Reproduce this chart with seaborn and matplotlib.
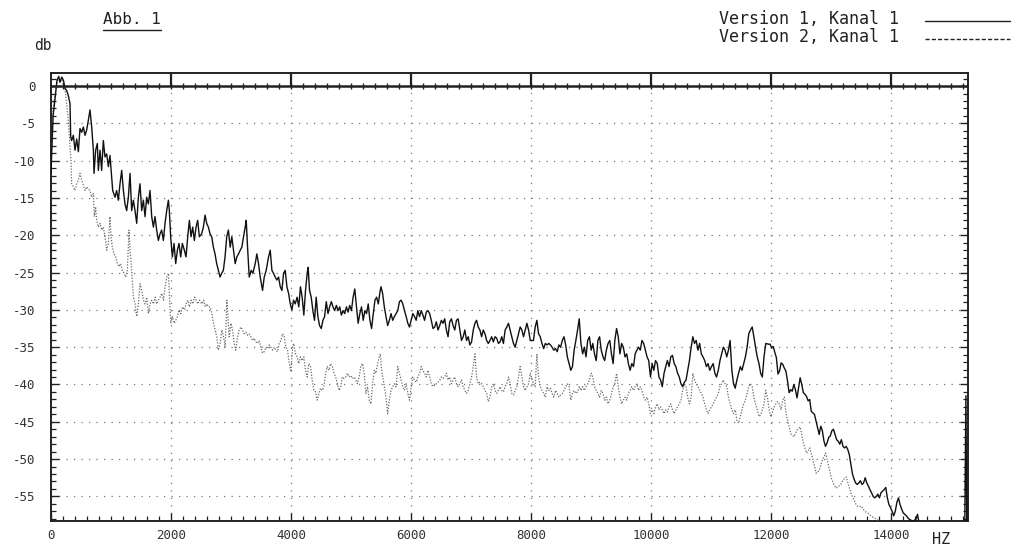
import numpy as np
import pandas as pd
import matplotlib
matplotlib.use("Agg")
import matplotlib.pyplot as plt
from matplotlib.lines import Line2D
from matplotlib.ticker import MultipleLocator
import seaborn as sns

title_text = "Abb. 1"
y_unit = "db"
x_unit = "HZ"
series_names = ["Version 1, Kanal 1", "Version 2, Kanal 1"]
x_ticks = [0, 2000, 4000, 6000, 8000, 10000, 12000, 14000]
y_ticks = [0, -5, -10, -15, -20, -25, -30, -35, -40, -45, -50, -55]

freq_v1 = [
    0, 35, 70, 100, 130, 150, 180, 206, 235, 261, 289, 317, 328, 344, 372, 400, 428, 456, 483, 511,
    539, 567, 594, 622, 650, 678, 706, 717, 744, 772, 789, 817, 844, 872, 900, 928, 956, 983, 1011, 1028,
    1067, 1094, 1122, 1150, 1178, 1206, 1233, 1261, 1289, 1317, 1344, 1372, 1400, 1428, 1456, 1483, 1511, 1539, 1567, 1594,
    1622, 1650, 1678, 1706, 1733, 1761, 1789, 1817, 1844, 1872, 1900, 1928, 1956, 1972, 1994, 2022, 2050, 2078, 2106, 2133,
    2161, 2189, 2222, 2250, 2278, 2306, 2333, 2361, 2389, 2417, 2444, 2472, 2511, 2539, 2567, 2594, 2622, 2650, 2678, 2706,
    2733, 2761, 2789, 2817, 2844, 2872, 2900, 2928, 2956, 2986, 3013, 3041, 3069, 3097, 3125, 3153, 3180, 3208, 3236, 3253,
    3275, 3303, 3336, 3364, 3403, 3430, 3458, 3486, 3525, 3553, 3586, 3625, 3653, 3681, 3708, 3736, 3764, 3792, 3820, 3848,
    3875, 3903, 3931, 3959, 3987, 4014, 4042, 4070,
    4101, 4129, 4157, 4185, 4213, 4241, 4269, 4285, 4308, 4336, 4364, 4391, 4419, 4447, 4475, 4503, 4531, 4559, 4587, 4615,
    4643, 4671, 4699, 4727, 4755, 4783, 4811, 4839, 4867, 4895, 4923, 4950, 4978, 5006, 5034, 5062, 5090, 5118, 5146, 5174,
    5202, 5230, 5258, 5286, 5314, 5342, 5370, 5398, 5426, 5454, 5482, 5498, 5526, 5554, 5582, 5610, 5638, 5666, 5694, 5722,
    5750, 5778, 5806, 5834, 5862, 5890, 5918, 5946, 5973, 6001, 6029, 6057, 6085, 6113, 6141, 6169, 6197, 6225, 6253, 6281,
    6309, 6337, 6365, 6393, 6421, 6449, 6477, 6505, 6532, 6560, 6588, 6616, 6644, 6672, 6700, 6728, 6756, 6784, 6812, 6840,
    6868, 6896, 6924, 6952, 6980, 7008, 7036, 7064, 7091, 7119, 7147, 7175, 7203, 7231, 7259, 7287, 7315, 7343, 7371, 7399,
    7427, 7455, 7483, 7511, 7539, 7567, 7595, 7623, 7650, 7678, 7706, 7734, 7762, 7790, 7818, 7846, 7874, 7902, 7930, 7958,
    7986,
    8039, 8068, 8096, 8124, 8152, 8181, 8209, 8237, 8265, 8294, 8322, 8350, 8378, 8407, 8435, 8463, 8491, 8520, 8548, 8576,
    8604, 8633, 8661, 8689, 8717, 8746, 8774, 8802, 8830, 8859, 8887, 8915, 8943, 8972, 9000, 9028, 9056, 9085, 9113, 9141,
    9169, 9198, 9226, 9254, 9282, 9311, 9339, 9367, 9395, 9424, 9452, 9480, 9508, 9537, 9565, 9593, 9621, 9650, 9678, 9706,
    9734, 9763, 9791, 9819, 9847, 9876, 9904, 9932, 9960, 9989, 10017, 10045, 10073, 10102, 10130, 10158, 10186, 10215, 10243, 10271,
    10299, 10328, 10356, 10384, 10412, 10441, 10469, 10497, 10525, 10554, 10582, 10610, 10638, 10667, 10695, 10723, 10751, 10780, 10808, 10836,
    10864, 10893, 10921, 10949, 10977, 11006, 11034, 11062, 11090, 11119, 11147, 11175, 11203, 11232, 11260, 11288, 11316, 11345, 11373, 11401,
    11429, 11458, 11486, 11514, 11542, 11571, 11599, 11627, 11655, 11684, 11712, 11740, 11768, 11797, 11825, 11853, 11881, 11910,
    11955, 11982, 12008, 12034, 12061, 12087, 12114, 12140, 12166, 12193, 12219, 12246, 12272, 12299, 12325, 12351, 12378, 12404, 12431, 12457,
    12483, 12510, 12536, 12563, 12589, 12616, 12642, 12668, 12695, 12721, 12748, 12774, 12800, 12827, 12853, 12880, 12906, 12933, 12959, 12985,
    13012, 13038, 13065, 13091, 13117, 13144, 13170, 13197, 13223, 13250, 13276, 13302, 13329, 13355, 13382, 13408, 13434, 13461, 13487, 13514,
    13540, 13567, 13593, 13619, 13646, 13672, 13699, 13725, 13751, 13778, 13804, 13831, 13857, 13883, 13910, 13936, 13963, 13989, 14015, 14042,
    14068, 14095, 14121, 14148, 14174, 14200, 14227, 14253, 14280, 14306, 14359, 14412, 14438, 14465,
    14600, 15225, 15245, 15260,
]
db_v1 = [
    -11.5, -4.0, -1.5, 0.8, 1.3, 0.5, 1.2, 0.8, -0.3, -0.6, -1.3, -2.4, -6.8, -7.3, -6.6, -8.6, -7.1, -8.8, -5.7, -6.2,
    -5.5, -6.6, -5.9, -4.6, -3.2, -5.5, -8.6, -11.7, -8.6, -7.7, -11.3, -8.6, -11.3, -7.3, -9.5, -9.1, -10.8, -9.3, -12.2, -14.0,
    -14.9, -14.0, -15.3, -13.1, -11.3, -14.0, -15.8, -16.7, -14.9, -11.7, -16.7, -15.3, -16.7, -18.4, -14.9, -13.1, -16.7, -15.3, -17.5, -14.9,
    -15.8, -14.0, -17.5, -18.9, -17.5, -19.3, -20.7, -19.8, -19.3, -20.7, -18.4, -16.7, -15.3, -16.7, -20.2, -22.9, -21.1, -23.8, -22.0, -21.1,
    -22.9, -21.1, -22.0, -22.9, -20.2, -18.0, -20.2, -18.9, -20.7, -18.9, -18.0, -20.2, -19.8, -18.9, -17.3, -18.4, -18.9, -19.8, -20.2, -21.6,
    -22.5, -23.8, -24.7, -25.6, -25.1, -24.7, -22.9, -20.2, -19.3, -21.6, -20.2, -22.0, -23.8, -22.9, -22.5, -22.0, -21.6, -20.2, -18.9, -18.0,
    -21.6, -25.6, -24.7, -25.1, -23.8, -22.5, -23.8, -25.6, -27.4, -25.6, -24.7, -22.9, -22.0, -24.7, -25.1, -25.6, -26.0, -25.6, -26.9, -27.4,
    -25.1, -24.7, -26.9, -27.8, -29.2, -30.0, -28.7, -29.2,
    -28.3, -29.6, -26.9, -28.3, -30.7, -27.4, -25.1, -24.3, -27.4, -28.3, -30.1, -31.4, -28.3, -30.9, -32.1, -32.5, -31.4, -30.9, -28.9, -30.5,
    -29.6, -28.9, -29.6, -30.1, -29.4, -30.1, -29.6, -30.7, -30.1, -30.5, -29.6, -30.3, -29.4, -30.1, -28.3, -27.2, -29.6, -31.8, -30.5, -29.6,
    -31.4, -30.1, -30.5, -29.2, -31.4, -32.5, -30.5, -28.7, -28.3, -29.2, -27.6, -26.9, -27.8, -29.6, -30.9, -32.1, -31.4, -30.5, -31.4, -30.9,
    -30.5, -30.1, -28.9, -28.7, -29.2, -30.1, -30.9, -31.8, -32.3, -31.4, -30.5, -30.9, -31.4, -30.1, -30.9, -30.1, -30.7, -31.4, -30.3, -30.1,
    -30.5, -31.4, -32.5, -32.3, -31.6, -32.7, -32.1, -31.4, -31.8, -31.2, -32.7, -33.6, -31.6, -31.2, -32.1, -32.7, -31.4, -31.2, -32.7, -34.1,
    -33.6, -32.7, -34.1, -33.6, -34.7, -34.3, -32.7, -31.8, -31.4, -32.3, -32.7, -33.6, -32.7, -33.2, -34.1, -34.5, -34.1, -33.6, -34.3, -33.6,
    -33.8, -34.5, -34.3, -33.6, -34.5, -32.7, -32.3, -31.8, -32.7, -33.6, -34.5, -35.0, -34.1, -33.2, -32.3, -32.7, -33.6, -32.7, -31.8, -32.7,
    -34.1,
    -34.1, -32.3, -31.4, -33.2, -33.6, -34.5, -35.2, -34.5, -34.7, -34.5, -34.7, -35.0, -35.4, -35.2, -35.6, -34.7, -35.0, -34.1, -33.6, -34.7,
    -36.3, -37.2, -38.1, -37.6, -35.4, -34.1, -32.7, -31.2, -34.5, -35.9, -35.0, -36.3, -34.1, -33.6, -35.4, -34.5, -35.9, -36.8, -34.1, -33.6,
    -35.4, -36.3, -36.8, -35.4, -34.5, -34.1, -35.9, -37.2, -34.1, -32.5, -33.6, -35.9, -34.5, -35.0, -36.3, -35.9, -37.2, -38.1, -37.2, -37.6,
    -35.9, -35.4, -35.0, -35.4, -34.1, -34.5, -35.4, -36.3, -36.8, -39.0, -37.2, -38.1, -36.8, -37.2, -39.0, -39.4, -40.3, -38.5, -37.6, -36.8,
    -37.6, -36.3, -36.1, -37.2, -37.6, -38.5, -39.0, -39.9, -40.3, -39.7, -39.4, -38.1, -36.8, -35.0, -33.6, -34.5, -34.1, -35.4, -34.5, -35.9,
    -36.3, -36.8, -37.6, -37.2, -38.1, -37.6, -37.2, -38.5, -39.0, -38.1, -36.8, -35.9, -35.0, -35.4, -36.3, -35.4, -34.1, -38.1, -39.9, -40.5,
    -39.4, -38.5, -37.6, -38.1, -37.2, -36.3, -35.0, -33.2, -32.7, -32.3, -33.6, -35.0, -36.3, -37.2, -38.5, -39.0, -36.3, -34.5,
    -34.6, -34.6, -35.1, -34.9, -35.7, -36.4, -38.6, -38.2, -37.1, -37.3, -37.8, -38.2, -39.5, -41.1, -40.7, -40.9, -40.0, -40.7, -41.8, -40.4,
    -39.1, -40.0, -41.1, -41.3, -41.6, -42.2, -42.0, -43.6, -43.8, -44.0, -44.9, -45.8, -46.7, -45.6, -46.2, -47.6, -48.3, -47.8, -47.1, -46.9,
    -46.2, -46.0, -46.7, -47.4, -47.6, -48.0, -47.4, -48.3, -48.5, -48.3, -48.7, -49.4, -50.7, -52.0, -52.7, -53.2, -53.4, -53.2, -52.9, -53.4,
    -53.2, -52.5, -53.2, -53.6, -54.1, -54.5, -55.0, -55.2, -55.0, -54.7, -55.2, -54.5, -54.3, -54.1, -53.8, -55.2, -56.1, -56.5, -57.0, -57.6,
    -57.0, -55.8, -55.2, -56.1, -56.7, -57.2, -57.4, -57.6, -57.9, -58.1, -58.3, -58.1, -57.4, -58.5,
    -60.0, -60.0, -41.5, -60.0,
]

freq_v2 = [
    0, 35, 70, 100, 130, 180, 235, 289, 317, 333, 344, 372, 400, 428, 456, 483, 511, 539, 567, 594,
    622, 650, 678, 706, 722, 744, 761, 789, 817, 844, 872, 900, 928, 956, 983, 1000, 1022, 1050, 1078, 1106,
    1133, 1161, 1189, 1217, 1245, 1272, 1300, 1317, 1345, 1373, 1401, 1428, 1456, 1484, 1512, 1540, 1568, 1596, 1623, 1651,
    1679, 1707, 1735, 1762, 1790, 1818, 1846, 1874, 1901, 1929, 1957, 1974, 1996, 2024, 2052, 2079, 2107, 2135, 2163, 2191,
    2224, 2252, 2279, 2307, 2335, 2363, 2391, 2418, 2446, 2474, 2513, 2541, 2569, 2596, 2624, 2652, 2680, 2708, 2735, 2763,
    2791, 2819, 2847, 2875, 2902, 2930, 2947, 2969, 2997, 3025, 3052, 3080, 3108, 3136, 3164, 3191, 3219, 3247, 3275, 3303,
    3330, 3358, 3386, 3414, 3442, 3469, 3497, 3525, 3553, 3581, 3608, 3636, 3664, 3692, 3720, 3747, 3775, 3803, 3831, 3859,
    3886, 3914, 3942, 3970, 3998, 4025,
    4045, 4073, 4101, 4129, 4157, 4185, 4213, 4241, 4269, 4296, 4324, 4352, 4380, 4408, 4436, 4464, 4492, 4520, 4548, 4576,
    4604, 4632, 4660, 4688, 4716, 4744, 4772, 4800, 4828, 4855, 4883, 4911, 4939, 4967, 4995, 5023, 5051, 5079, 5107, 5135,
    5163, 5191, 5219, 5247, 5275, 5303, 5331, 5359, 5387, 5414, 5442, 5470, 5487, 5509, 5537, 5565, 5593, 5610, 5638, 5666,
    5694, 5722, 5750, 5778, 5806, 5834, 5862, 5890, 5918, 5946, 5973, 6001, 6029, 6057, 6085, 6113, 6141, 6169, 6197, 6225,
    6253, 6281, 6309, 6337, 6365, 6393, 6421, 6449, 6477, 6505, 6532, 6560, 6588, 6616, 6644, 6672, 6700, 6728, 6756, 6784,
    6812, 6840, 6868, 6896, 6924, 6952, 6980, 7008, 7036, 7064, 7091, 7119, 7147, 7175, 7203, 7231, 7259, 7287, 7315, 7343,
    7371, 7399, 7427, 7455, 7483, 7511, 7539, 7567, 7595, 7623, 7650, 7678, 7706, 7734, 7762, 7790, 7818, 7846, 7874, 7902,
    7930, 7958, 7986,
    8039, 8068, 8096, 8124, 8152, 8181, 8209, 8237, 8265, 8294, 8322, 8350, 8378, 8407, 8435, 8463, 8491, 8520, 8548, 8576,
    8604, 8633, 8661, 8689, 8717, 8746, 8774, 8802, 8830, 8859, 8887, 8915, 8943, 8972, 9000, 9028, 9056, 9085, 9113, 9141,
    9169, 9198, 9226, 9254, 9282, 9311, 9339, 9367, 9395, 9424, 9452, 9480, 9508, 9537, 9565, 9593, 9621, 9650, 9678, 9706,
    9734, 9763, 9791, 9819, 9847, 9876, 9904, 9932, 9960, 9989, 10017, 10045, 10073, 10102, 10130, 10158, 10186, 10215, 10243, 10271,
    10299, 10328, 10356, 10384, 10412, 10441, 10469, 10497, 10525, 10554, 10582, 10610, 10638, 10667, 10695, 10723, 10751, 10780, 10808, 10836,
    10864, 10893, 10921, 10949, 10977, 11006, 11034, 11062, 11090, 11119, 11147, 11175, 11203, 11232, 11260, 11288, 11316, 11345, 11373, 11401,
    11429, 11458, 11486, 11514, 11542, 11571, 11599, 11627, 11655, 11684, 11712, 11740, 11768, 11797, 11825, 11853, 11881, 11910, 11938, 11966,
    11994, 12023, 12051, 12079, 12108, 12136, 12164, 12192, 12220,
    12248, 12327, 12380, 12433, 12485, 12538, 12591, 12644, 12697, 12749, 12802, 12855, 12908, 12960, 13000, 13040, 13080, 13119, 13160, 13198,
    13251, 13290, 13330, 13383, 13420, 13462, 13500, 13541, 13580, 13620, 13673, 13725, 13778, 13850, 15200,
]
db_v2 = [
    -10.0, -3.0, -1.0, 0.5, 1.0, 0.8, -0.5, -4.6, -8.2, -10.0, -13.1, -13.5, -14.0, -13.1, -12.6, -11.7, -12.6, -13.3, -14.0, -13.5,
    -13.8, -14.0, -14.9, -14.4, -17.5, -16.2, -18.0, -18.9, -18.4, -19.3, -18.9, -20.2, -22.0, -21.1, -17.5, -20.2, -21.6, -22.5, -22.9, -23.8,
    -24.2, -23.8, -24.7, -25.1, -25.6, -24.7, -19.3, -22.0, -24.7, -28.3, -29.2, -30.9, -29.2, -26.5, -27.4, -28.7, -29.2, -28.3, -30.5, -29.2,
    -28.7, -29.2, -28.3, -29.2, -28.7, -28.3, -27.8, -28.7, -26.9, -25.6, -25.1, -28.3, -31.8, -30.9, -31.8, -31.4, -30.9, -30.0, -30.5, -29.6,
    -30.0, -29.2, -28.7, -29.6, -28.7, -29.2, -28.3, -28.7, -29.2, -28.7, -29.2, -28.7, -29.6, -29.2, -29.6, -29.6, -30.5, -31.8, -32.7, -33.6,
    -35.4, -34.5, -32.7, -33.6, -35.0, -28.7, -30.9, -33.6, -31.8, -32.7, -34.5, -35.4, -33.6, -32.7, -32.3, -32.7, -33.2, -33.0, -33.4, -33.2,
    -33.6, -34.1, -33.8, -34.3, -34.5, -34.1, -35.0, -35.8, -35.6, -35.0, -35.2, -34.7, -35.0, -35.4, -35.0, -35.4, -35.6, -34.5, -34.1, -33.2,
    -33.6, -35.0, -35.4, -37.2, -38.3, -35.0,
    -34.5, -35.9, -36.3, -37.2, -36.3, -36.8, -36.3, -38.1, -39.0, -37.2, -37.6, -39.4, -40.8, -41.0, -42.1, -41.2, -40.5, -40.8, -40.3, -38.5,
    -37.6, -38.1, -37.2, -37.6, -38.5, -39.0, -39.9, -40.8, -40.3, -39.0, -39.2, -39.0, -38.5, -39.0, -38.8, -39.2, -39.0, -39.4, -39.9, -39.0,
    -37.6, -37.2, -38.5, -41.2, -40.3, -42.1, -42.6, -39.9, -38.1, -38.5, -37.2, -36.3, -35.9, -38.1, -39.4, -40.8, -42.6, -43.9, -42.1, -40.8,
    -40.3, -39.9, -40.3, -37.6, -38.5, -39.4, -40.3, -40.8, -39.9, -41.2, -42.1, -40.3, -39.0, -39.4, -39.7, -39.0, -38.5, -37.6, -38.1, -38.5,
    -39.0, -38.1, -39.0, -39.9, -40.3, -40.1, -39.9, -39.7, -39.4, -39.0, -39.2, -39.0, -38.5, -39.4, -39.0, -39.9, -39.4, -39.0, -39.9, -40.3,
    -39.9, -39.4, -40.3, -40.8, -41.2, -40.8, -39.9, -39.0, -37.6, -35.9, -39.0, -39.9, -39.7, -39.9, -40.3, -40.8, -41.2, -42.3, -41.7, -40.3,
    -39.9, -40.8, -41.2, -40.8, -40.3, -40.8, -41.0, -40.3, -39.9, -39.0, -39.9, -41.2, -41.4, -40.8, -40.3, -39.0, -37.6, -39.0, -40.3, -40.8,
    -40.3, -39.9, -38.5,
    -39.9, -40.3, -35.9, -39.0, -40.3, -40.8, -41.2, -41.7, -40.3, -40.8, -40.5, -41.2, -41.7, -40.8, -41.2, -41.7, -41.4, -41.2, -40.8, -40.3,
    -39.9, -40.3, -42.1, -41.2, -40.8, -41.2, -41.0, -40.3, -40.8, -40.3, -40.8, -40.3, -39.9, -39.4, -38.5, -39.0, -40.3, -40.8, -41.2, -41.7,
    -40.8, -41.2, -42.1, -41.7, -42.6, -42.1, -41.2, -40.3, -39.9, -38.5, -40.3, -41.7, -42.6, -42.1, -41.7, -42.1, -41.2, -40.8, -40.3, -40.8,
    -40.3, -39.9, -40.8, -40.3, -40.8, -41.7, -42.1, -41.7, -42.6, -43.9, -43.4, -43.9, -43.0, -42.6, -43.4, -43.0, -43.4, -43.9, -43.4, -43.7,
    -43.0, -42.6, -43.4, -43.9, -43.4, -43.0, -42.6, -42.1, -40.8, -39.9, -40.3, -41.7, -42.6, -41.7, -38.5, -39.4, -39.9, -40.3, -40.8, -41.2,
    -41.7, -42.6, -43.4, -43.9, -43.4, -43.0, -42.6, -42.1, -41.7, -41.2, -40.3, -39.9, -39.4, -39.9, -40.3, -41.7, -42.6, -43.4, -43.9, -43.4,
    -44.8, -45.2, -44.3, -43.4, -42.6, -42.1, -41.2, -40.3, -39.9, -40.3, -41.7, -42.6, -43.4, -44.3, -44.1, -43.4, -42.6, -40.8, -41.7, -43.4,
    -44.3, -43.7, -43.0, -42.6, -42.3, -42.6, -43.4, -42.1, -41.7,
    -43.9, -46.6, -47.0, -46.1, -45.7, -47.9, -49.2, -48.5, -50.1, -51.9, -51.5, -50.1, -49.2, -51.0, -52.5, -53.3, -53.9, -53.7, -53.4, -52.8,
    -52.4, -53.5, -54.6, -55.5, -56.2, -56.4, -56.3, -56.8, -57.1, -57.3, -57.7, -57.9, -58.2, -60.0, -60.0,
]

sns.set_theme(style="white")
plt.rcParams["font.family"] = ["DejaVu Sans Mono", "DejaVu Sans"]

W, H = 1012, 549
fig = plt.figure(figsize=(W / 100, H / 100), dpi=100)
L, R, T, B = 51, 968, 73, 521
ax = fig.add_axes([L / W, 1 - B / H, (R - L) / W, (B - T) / H])

df1 = pd.DataFrame({"freq": freq_v1, "db": db_v1})
df2 = pd.DataFrame({"freq": freq_v2, "db": db_v2})

YMIN, YMAX = -58.3, 1.75
XMAX = 15280

ax.set_xlim(0, XMAX)
ax.set_ylim(YMIN, YMAX)
ax.set_xticks(x_ticks)
ax.set_xticklabels([str(v) for v in x_ticks])
ax.set_yticks(y_ticks)
ax.set_yticklabels([str(v) for v in y_ticks])
ax.xaxis.set_minor_locator(MultipleLocator(200))
ax.yaxis.set_minor_locator(MultipleLocator(1))

ax.grid(True, which="major", color="#777777", linestyle=(0, (1, 5)), linewidth=0.9)
ax.set_axisbelow(True)

sns.lineplot(data=df2, x="freq", y="db", ax=ax, color="#6a6a6a", linewidth=0.9,
             linestyle=(0, (1, 1.3)), estimator=None, sort=False, zorder=3)
sns.lineplot(data=df1, x="freq", y="db", ax=ax, color="#111111", linewidth=1.0,
             estimator=None, sort=False, zorder=4)

# zero reference line with cross ticks
ax.axhline(0, color="#222222", linewidth=1.8, zorder=5)
ax.vlines(np.arange(200, XMAX, 200), -0.45, 0.45, color="#222222", linewidth=1.0, zorder=5)
ax.vlines(x_ticks[1:], 0, YMAX, color="#222222", linewidth=1.6, zorder=5)

for s in ax.spines.values():
    s.set_visible(True)
    s.set_color("#222222")
    s.set_linewidth(1.4)

ax.tick_params(axis="both", which="major", direction="in", length=6, width=1.0,
               color="#222222", labelcolor="#333333", labelsize=9)
ax.tick_params(axis="both", which="minor", direction="in", length=3.5, width=0.9, color="#222222")
ax.tick_params(axis="y", which="both", left=True, right=True, pad=11)
ax.tick_params(axis="x", which="both", bottom=True, top=False, pad=6)
ax.set_xlabel("")
ax.set_ylabel("")

# texts
fig.text(103 / W, 1 - 20 / H, title_text, fontsize=11.5, color="#222222", va="center", ha="left")
fig.add_artist(Line2D([103 / W, 161 / W], [1 - 30 / H, 1 - 30 / H], transform=fig.transFigure,
                      color="#222222", linewidth=1.0))
fig.text(34 / W, 1 - 46 / H, y_unit, fontsize=10.5, color="#222222", va="center", ha="left")
fig.text(932 / W, 1 - 539 / H, x_unit, fontsize=11, color="#222222", va="center", ha="left")

# legend
fig.text(719 / W, 1 - 19 / H, series_names[0], fontsize=12, color="#222222", va="center", ha="left")
fig.text(719 / W, 1 - 37 / H, series_names[1], fontsize=12, color="#222222", va="center", ha="left")
fig.add_artist(Line2D([925 / W, 1010 / W], [1 - 21 / H, 1 - 21 / H], transform=fig.transFigure,
                      color="#222222", linewidth=1.0))
fig.add_artist(Line2D([925 / W, 1010 / W], [1 - 39 / H, 1 - 39 / H], transform=fig.transFigure,
                      color="#222222", linewidth=1.0, linestyle=(0, (3, 1.5))))

fig.savefig("out.png", dpi=100)
